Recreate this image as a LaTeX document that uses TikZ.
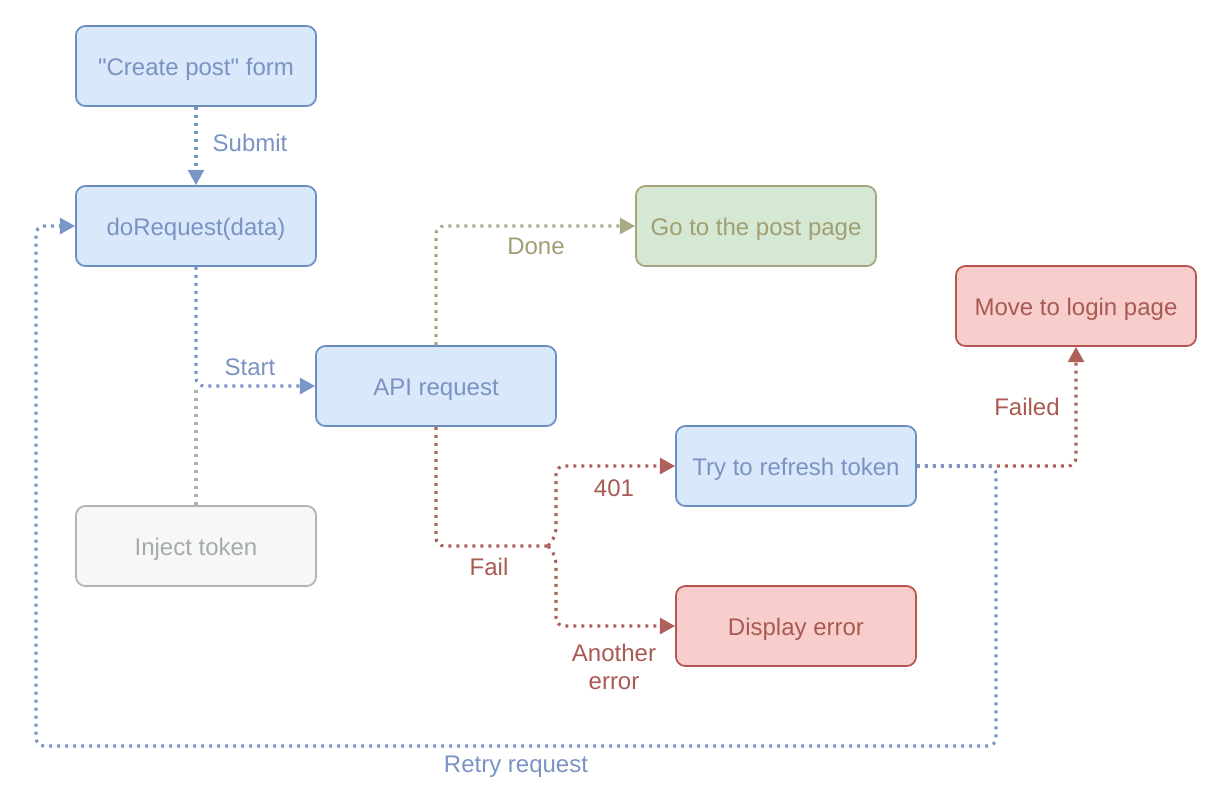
\documentclass[tikz,border=0pt]{standalone}
\usepackage{fontspec}
\setmainfont{Liberation Sans}[Ligatures=TeXOff]
\usetikzlibrary{arrows.meta}
\definecolor{bfill}{HTML}{DAE8FC}
\definecolor{bstroke}{HTML}{6C8EBF}
\definecolor{btext}{HTML}{7B93C2}
\definecolor{bline}{HTML}{7896C6}
\definecolor{gfill}{HTML}{D5E8D4}
\definecolor{gstroke}{HTML}{A8A47E}
\definecolor{gtext}{HTML}{A09E72}
\definecolor{gline}{HTML}{A8AA86}
\definecolor{rfill}{HTML}{F8CECC}
\definecolor{rstroke}{HTML}{B85450}
\definecolor{rtext}{HTML}{A85A52}
\definecolor{rline}{HTML}{B0605A}
\definecolor{ifill}{HTML}{F7F7F7}
\definecolor{istroke}{HTML}{ACB6AC}
\definecolor{itext}{HTML}{A2AEA4}
\tikzset{
  box/.style={rounded corners=7pt, line width=1.3pt, minimum width=180pt, minimum height=60pt, inner sep=0pt, text height=17pt, text depth=3pt, font=\fontsize{18}{21}\selectfont},
  bluebox/.style={box, fill=bfill, draw=bstroke, text=btext},
  greenbox/.style={box, fill=gfill, draw=gstroke, text=gtext},
  redbox/.style={box, fill=rfill, draw=rstroke, text=rtext},
  injbox/.style={box, fill=ifill, draw=istroke, text=itext},
  conn/.style={line width=2.3pt, dash pattern=on 2.2pt off 3.8pt, rounded corners=6pt},
  btip/.style={-{Triangle[length=11.5pt,width=12pt,fill=bline]}},
  gtip/.style={-{Triangle[length=11.5pt,width=12pt,fill=gline]}},
  rtip/.style={-{Triangle[length=11.5pt,width=12pt,fill=rline]}},
  blueline/.style={conn, draw=bline},
  greenline/.style={conn, draw=gline},
  redline/.style={conn, draw=rline},
  injline/.style={conn, draw=istroke},
  lbl/.style={font=\fontsize{18}{21}\selectfont, inner sep=0pt, align=center},
}
\begin{document}
\begin{tikzpicture}[x=0.75pt, y=-0.75pt]
\useasboundingbox (0,0) rectangle (1222,804);

\node[bluebox] (form) at (196,66) {"Create post" form};
\node[bluebox] (doreq) at (196,226) {doRequest(data)};
\node[greenbox] (go) at (756,226) {Go to the post page};
\node[redbox] (move) at (1076,306) {Move to login page};
\node[bluebox] (api) at (436,386) {API request};
\node[bluebox] (try) at (796,466) {Try to refresh token};
\node[injbox] (inject) at (196,546) {Inject token};
\node[redbox] (disp) at (796,626) {Display error};

\coordinate (jstart) at (196,390);
\coordinate (jfail) at (548,546);
\coordinate (rcorner) at (996,466);

% Submit
\draw[blueline, btip] (form.south) -- (doreq.north);
\node[lbl, text=btext] (lsubmit) at (250,143) {Submit};

% Inject token joins the start line
\draw[injline] (inject.north) -- (jstart);
% Start
\draw[blueline, btip] (doreq.south) |- (api.west);
\node[lbl, text=btext] (lstart) at (250,367) {Start};

% Done
\draw[greenline, gtip] (api.north) |- (go.west);
\node[lbl, text=gtext] (ldone) at (536,246) {Done};

% Fail
\draw[redline] (api.south) |- (jfail);
\draw[redline, rtip] (jfail) -- (556,536) -- (556,466) -- (try.west);
\draw[redline, rtip] (jfail) -- (556,556) -- (556,626) -- (disp.west);
\node[lbl, text=rtext] (lfail) at (489,567) {Fail};
\node[lbl, text=rtext] (l401) at (614,488) {401};
\node[lbl, text=rtext] (lanother) at (614,667) {Another\\error};

% Failed
\draw[redline, rtip] (try.east) -| (move.south);
\node[lbl, text=rtext] (lfailed) at (1027,407) {Failed};

% Retry request
\draw[blueline, btip] (try.east) -- (rcorner) -- (996,746) -- (36,746) -- (36,226) -- (doreq.west);
\node[lbl, text=btext] (lretry) at (516,767) {Retry request};
\end{tikzpicture}
\end{document}
